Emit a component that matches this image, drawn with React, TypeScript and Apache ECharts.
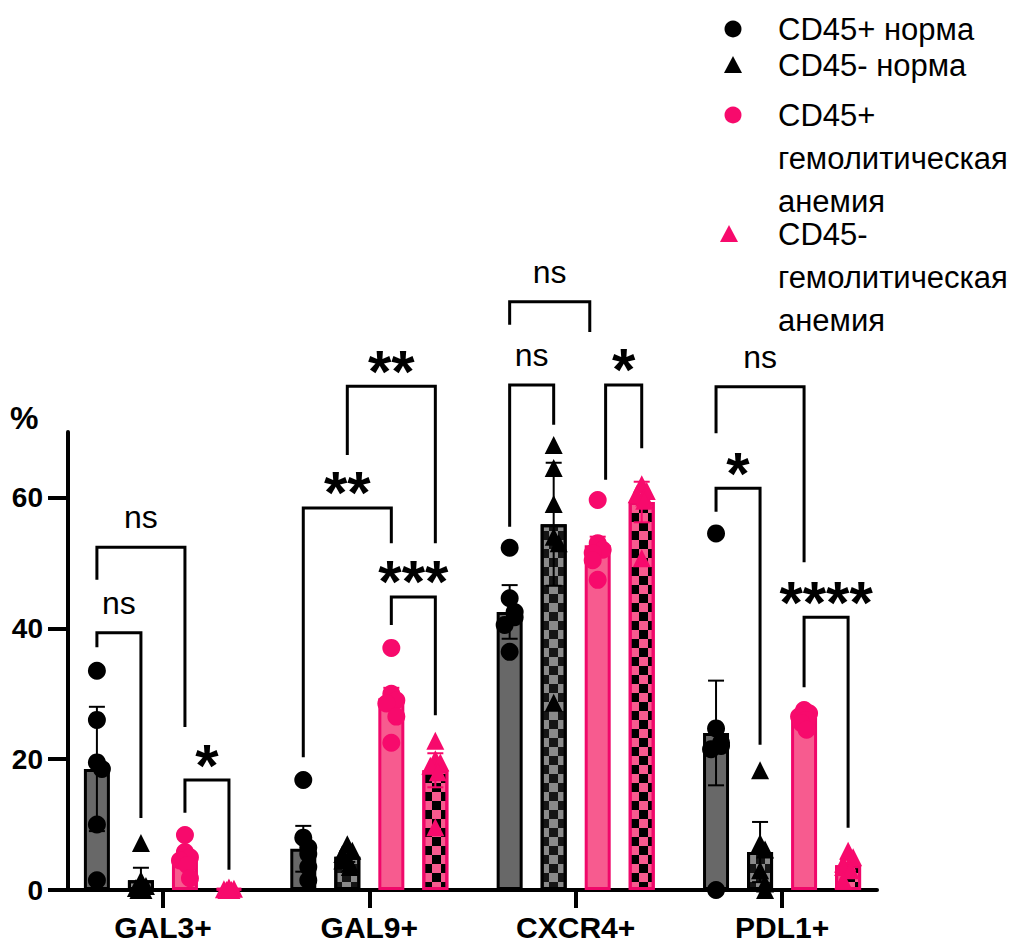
import React, { useEffect, useRef } from 'react';
import * as echarts from 'echarts';

// ---------- data ----------
const categories = ['GAL3+', 'GAL9+', 'CXCR4+', 'PDL1+'];
const groupNames = ['CD45+ норма', 'CD45- норма', 'CD45+ гемолитическая анемия', 'CD45- гемолитическая анемия'];
const legendLines = [
  ['CD45+ норма'],
  ['CD45- норма'],
  ['CD45+', 'гемолитическая', 'анемия'],
  ['CD45-', 'гемолитическая', 'анемия'],
];
const yTicks = [0, 20, 40, 60];
const xTicks = [0, 1, 2, 3];

// bar means (per category)
const meanNormPlus = [18.5, 6.3, 42.5, 24.0];
const meanNormMinus = [1.5, 5.1, 55.9, 5.8];
const meanAnemPlus = [4.9, 29.3, 52.7, 26.4];
const meanAnemMinus = [0.2, 18.3, 59.3, 3.8];

// error bar half-lengths
const errNormPlus = [9.5, 3.5, 4.1, 8.0];
const errNormMinus = [1.9, 0.8, 9.4, 4.6];
const errAnemPlus = [1.0, 1.6, 1.3, 0.6];
const errAnemMinus = [0.1, 2.6, 3.1, 0.8];

// individual points
const ptsNormPlus = [
  [33.5, 26, 19.5, 18.5, 10, 1.5],
  [16.8, 8, 6.5, 5.5, 3.5, 1.5],
  [52.3, 44.6, 42.5, 41.7, 40.5, 36.4],
  [54.5, 24.7, 22.5, 22, 21.5, 0],
];
const ptsNormMinus = [
  [7.2, 1.5, 0.6, 0.3, 0, 0],
  [7, 6, 5.5, 4.5, 4, 3.5],
  [68, 64.5, 59, 54, 53, 28.6],
  [18.3, 7.2, 6.2, 3, 1, 0],
];
const ptsAnemPlus = [
  [8.4, 5.8, 5, 4.5, 3.8, 1.8],
  [37, 30, 29, 28.5, 26.5, 22.5],
  [59.6, 53, 52, 51.5, 50.4, 47.4],
  [27.5, 27, 26.5, 26, 25.5, 24.5],
];
const ptsAnemMinus = [
  [0.4, 0.2, 0.1, 0, 0, 0],
  [22.8, 20, 19.5, 19, 18, 9.6],
  [62, 61, 60.5, 60, 59.5, 50.7],
  [6, 5, 4, 3.5, 3, 1.5],
];

// significance brackets
const bracketCat = [0, 0, 0, 1, 1, 1, 2, 2, 2, 3, 3, 3];
const bracketFrom = [0, 0, 2, 1, 0, 2, 0, 0, 2.18, 0, 0, 2];
const bracketTo = [2, 1, 3, 3, 2, 3, 1.82, 1, 3, 2, 1, 3];
const bracketLevel = [52.4, 39.3, 16.8, 77.0, 58.4, 44.8, 89.9, 77.2, 77.2, 76.9, 61.4, 41.7];
const bracketLeftEnd = [47.4, 37.1, 11.8, 66.5, 20.3, 40.5, 86.4, 55.5, 62.7, 69.8, 57.8, 31.0];
const bracketRightEnd = [24.9, 11.0, 3.1, 53.0, 53.0, 26.7, 85.3, 71.1, 67.5, 50.1, 22.2, 9.5];
const bracketLabel = ['ns', 'ns', '*', '**', '**', '***', 'ns', 'ns', '*', 'ns', '*', '****'];

// ---------- style ----------
const PINK = '#F70A6C';
const PINK_FILL = '#F75B8F';
const PINK_BORDER = '#F0086A';
const FONT = '"Liberation Sans", Arial, Helvetica, sans-serif';
const BAR_STEP = 0.2133; // distance between bars inside a group, in category units
const PX_UNIT = 206.3; // approx px per category unit
const JITTER_PX = [0, 5, -5, 2.5, -2.5, 0];

const barPos = (cat: number, k: number) => cat + (k - 1.5) * BAR_STEP;

const means = [meanNormPlus, meanNormMinus, meanAnemPlus, meanAnemMinus];
const errs = [errNormPlus, errNormMinus, errAnemPlus, errAnemMinus];
const pts = [ptsNormPlus, ptsNormMinus, ptsAnemPlus, ptsAnemMinus];

const checker = (color: string) => ({
  symbol: 'rect',
  symbolSize: 1,
  color,
  dashArrayX: [[9, 9], [0, 9, 9, 0]],
  dashArrayY: [9, 0],
  rotation: 0,
});

const barStyles = [
  { color: '#686868', borderColor: '#000', borderWidth: 3 },
  { color: '#8a8a8a', borderColor: '#000', borderWidth: 3, decal: checker('#151515') },
  { color: PINK_FILL, borderColor: PINK_BORDER, borderWidth: 3 },
  { color: PINK_FILL, borderColor: PINK_BORDER, borderWidth: 3, decal: checker('#000000') },
];
const markerColors = ['#000', '#000', PINK, PINK];
const markerSymbols = ['circle', 'triangle', 'circle', 'triangle'];
const errColors = ['#000', '#000', PINK, PINK];

function pointData(k: number) {
  const out: number[][] = [];
  pts[k].forEach((vals, cat) => {
    vals.forEach((v, i) => {
      let near = 0;
      for (let j = 0; j < i; j++) if (Math.abs(vals[j] - v) < 2.2) near++;
      const jx = near === 0 ? 0 : JITTER_PX[near % JITTER_PX.length];
      out.push([barPos(cat, k) + jx / PX_UNIT, v]);
    });
  });
  return out;
}

export default function App() {
  const ref = useRef<HTMLDivElement>(null);
  useEffect(() => {
    if (!ref.current) return;
    const chart = echarts.init(ref.current, null, { renderer: 'svg' });

    const series: any[] = [];
    for (let k = 0; k < 4; k++) {
      series.push({
        type: 'bar',
        name: groupNames[k],
        barWidth: 26,
        barGap: '-100%',
        z: 2,
        itemStyle: barStyles[k],
        data: means[k].map((m, cat) => [barPos(cat, k), m]),
      });
    }
    for (let k = 0; k < 4; k++) {
      series.push({
        type: 'custom',
        name: groupNames[k] + ' err',
        z: 3,
        dimensions: ['x', 'mean', 'err'],
        encode: { x: 0, y: 1 },
        data: means[k].map((m, cat) => [barPos(cat, k), m, errs[k][cat]]),
        renderItem: (params: any, api: any) => {
          const x = api.value(0);
          const m = api.value(1);
          const e = api.value(2);
          const top = api.coord([x, m + e]);
          const bot = api.coord([x, Math.max(0, m - e)]);
          const hw = 8;
          const st = { stroke: errColors[k], lineWidth: 2 };
          return {
            type: 'group',
            children: [
              { type: 'line', shape: { x1: top[0], y1: top[1], x2: bot[0], y2: bot[1] }, style: st },
              { type: 'line', shape: { x1: top[0] - hw, y1: top[1], x2: top[0] + hw, y2: top[1] }, style: st },
              { type: 'line', shape: { x1: bot[0] - hw, y1: bot[1], x2: bot[0] + hw, y2: bot[1] }, style: st },
            ],
          };
        },
      });
    }
    for (let k = 0; k < 4; k++) {
      series.push({
        type: 'scatter',
        name: groupNames[k] + ' pts',
        z: 4,
        symbol: markerSymbols[k],
        symbolSize: 18,
        itemStyle: { color: markerColors[k], opacity: 1 },
        data: pointData(k),
      });
    }
    series.push({
      type: 'custom',
      name: 'brackets',
      z: 5,
      clip: false,
      encode: { x: 0, y: 2 },
      data: bracketCat.map((c, i) => [
        barPos(c, bracketFrom[i]),
        barPos(c, bracketTo[i]),
        bracketLevel[i],
        bracketLeftEnd[i],
        bracketRightEnd[i],
      ]),
      renderItem: (params: any, api: any) => {
        const i = params.dataIndex;
        const x1 = api.value(0);
        const x2 = api.value(1);
        const lv = api.value(2);
        const p1 = api.coord([x1, api.value(3)]);
        const p2 = api.coord([x1, lv]);
        const p3 = api.coord([x2, lv]);
        const p4 = api.coord([x2, api.value(4)]);
        const label = bracketLabel[i];
        const isStar = label.indexOf('*') >= 0;
        const tx = (p2[0] + p3[0]) / 2;
        const ty = isStar ? p2[1] - 15 : p2[1] - 30;
        return {
          type: 'group',
          children: [
            {
              type: 'polyline',
              shape: { points: [p1, p2, p3, p4] },
              style: { stroke: '#000', lineWidth: 3, fill: 'none' },
            },
            {
              type: 'text',
              x: tx,
              y: ty,
              style: {
                text: label,
                fill: '#000',
                font: isStar ? `bold 60px ${FONT}` : `32px ${FONT}`,
                align: 'center',
                verticalAlign: 'middle',
                textAlign: 'center',
                textVerticalAlign: 'middle',
              },
            },
          ],
        };
      },
    });

    // legend graphics
    const legendY = [29, 65, 115, 234];
    const legendGraphics: any[] = [];
    legendLines.forEach((lines, k) => {
      const cy = legendY[k];
      const cx = k === 3 ? 729 : 733;
      if (markerSymbols[k] === 'circle') {
        legendGraphics.push({ type: 'circle', shape: { cx, cy, r: 8.5 }, style: { fill: markerColors[k] } });
      } else {
        legendGraphics.push({
          type: 'polygon',
          shape: { points: [[cx - 9, cy + 8], [cx + 9, cy + 8], [cx, cy - 9]] },
          style: { fill: markerColors[k] },
        });
      }
      lines.forEach((ln, j) => {
        legendGraphics.push({
          type: 'text',
          x: 778,
          y: cy + j * 43,
          style: {
            text: ln,
            fill: '#000',
            font: `31px ${FONT}`,
            align: 'left',
            verticalAlign: 'middle',
            textAlign: 'left',
            textVerticalAlign: 'middle',
          },
        });
      });
    });
    legendGraphics.push({
      type: 'text',
      x: 10,
      y: 418,
      style: {
        text: '%',
        fill: '#000',
        font: `bold 32px ${FONT}`,
        align: 'left',
        verticalAlign: 'middle',
        textAlign: 'left',
        textVerticalAlign: 'middle',
      },
    });

    chart.setOption({
      animation: false,
      backgroundColor: '#fff',
      grid: { left: 68, right: 132, top: 432, bottom: 54, containLabel: false },
      xAxis: {
        type: 'value',
        min: -0.46,
        max: 3.46,
        axisLine: { show: true, onZero: false, lineStyle: { color: '#000', width: 4 } },
        axisTick: { show: true, customValues: xTicks, length: 18, lineStyle: { color: '#000', width: 4 } },
        axisLabel: {
          show: true,
          customValues: xTicks,
          formatter: (v: number) => categories[Math.round(v)] ?? '',
          fontSize: 30,
          fontWeight: 'bold',
          fontFamily: FONT,
          color: '#000',
          margin: 22,
        },
        splitLine: { show: false },
      },
      yAxis: {
        type: 'value',
        min: 0,
        max: 70,
        axisLine: { show: true, onZero: false, lineStyle: { color: '#000', width: 4 } },
        axisTick: { show: true, customValues: yTicks, length: 20, lineStyle: { color: '#000', width: 4 } },
        axisLabel: {
          show: true,
          customValues: yTicks,
          fontSize: 28,
          fontWeight: 'bold',
          fontFamily: FONT,
          color: '#000',
          margin: 25,
        },
        splitLine: { show: false },
      },
      graphic: legendGraphics,
      series,
    });
    return () => chart.dispose();
  }, []);
  return <div ref={ref} style={{ position: 'absolute', left: 0, top: 0, width: 1009, height: 944 }} />;
}
